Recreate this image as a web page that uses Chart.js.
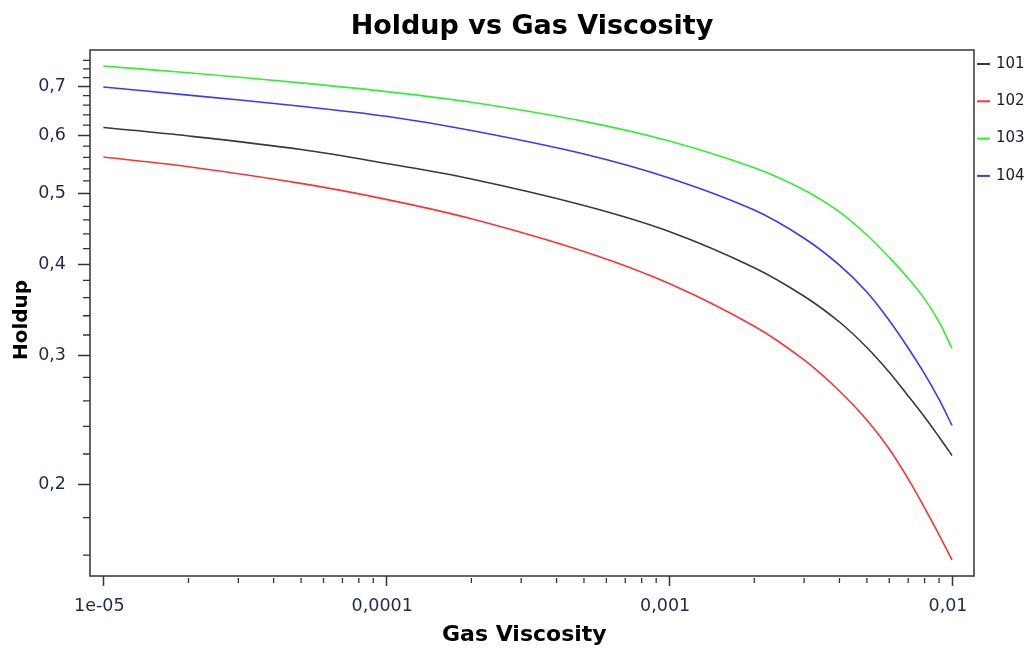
<!DOCTYPE html>
<html>
<head>
<meta charset="utf-8">
<script src="https://cdn.jsdelivr.net/npm/chart.js@4.4.1/dist/chart.umd.min.js"></script>
<style>
html,body{margin:0;padding:0;background:#ffffff;}
#wrap{width:1036px;height:650px;position:relative;}
</style>
</head>
<body>
<div id="wrap"><canvas id="c" width="1036" height="650"></canvas></div>
<script>
// ---- data ----
const seriesNames = ['101', '102', '103', '104'];
const seriesColors = ['#383838', '#ff3333', '#33ee33', '#3838ff'];
const gasViscosity = [1e-5, 2e-5, 5e-5, 1e-4, 2e-4, 5e-4, 1e-3, 2e-3, 3e-3, 4e-3, 5e-3, 6e-3, 7e-3, 8e-3, 9e-3, 1e-2];
const holdup101 = [0.6152, 0.5990, 0.5740, 0.5493, 0.5231, 0.4812, 0.4434, 0.3956, 0.3616, 0.3334, 0.3077, 0.2846, 0.2641, 0.2472, 0.2321, 0.2190];
const holdup102 = [0.5606, 0.5438, 0.5159, 0.4906, 0.4615, 0.4163, 0.3764, 0.3290, 0.2958, 0.2683, 0.2449, 0.2235, 0.2034, 0.1856, 0.1705, 0.1576];
const holdup103 = [0.7467, 0.7309, 0.7080, 0.6889, 0.6660, 0.6272, 0.5896, 0.5419, 0.5053, 0.4715, 0.4385, 0.4086, 0.3825, 0.3586, 0.3334, 0.3068];
const holdup104 = [0.6989, 0.6813, 0.6577, 0.6373, 0.6094, 0.5660, 0.5248, 0.4743, 0.4341, 0.3989, 0.3665, 0.3350, 0.3072, 0.2831, 0.2612, 0.2407];

const xTickValues = [1e-5, 1e-4, 1e-3, 1e-2];
const xTickLabels = ['1e-05', '0,0001', '0,001', '0,01'];
const yTickValues = [0.2, 0.3, 0.4, 0.5, 0.6, 0.7];
const yTickLabels = ['0,2', '0,3', '0,4', '0,5', '0,6', '0,7'];

const xRange = [8.97e-6, 0.01196];
const yRange = [0.1498, 0.7853];

const chartTitle = 'Holdup vs Gas Viscosity';
const xTitle = 'Gas Viscosity';
const yTitle = 'Holdup';

// ---- chart ----
const FONT = "'DejaVu Sans', Verdana, sans-serif";
const AXIS_COLOR = '#333333';
const TICK_TEXT = '#1e2a4a';

const seriesValues = [holdup101, holdup102, holdup103, holdup104];
const datasets = seriesNames.map((name, i) => ({
  label: name,
  data: gasViscosity.map((x, j) => ({ x: x, y: seriesValues[i][j] })),
  borderColor: seriesColors[i],
  backgroundColor: seriesColors[i],
  borderWidth: 1.6,
  pointRadius: 0,
  pointHoverRadius: 0,
  fill: false,
  tension: 0.35
}));

// minor tick values (their pixels come from the library scales)
const xMinor = [];
for (let d = -6; d <= -2; d++) {
  for (let k = 2; k <= 9; k++) xMinor.push(k * Math.pow(10, d));
}
const yMinor = [];
for (let i = 14; i <= 79; i += 2) {
  if (i % 10 !== 0) yMinor.push(i / 100);
}

const framePlugin = {
  id: 'frame',
  afterDraw(chart) {
    const { ctx, chartArea: a, scales } = chart;
    ctx.save();
    ctx.strokeStyle = AXIS_COLOR;
    ctx.lineWidth = 1.5;
    ctx.strokeRect(a.left, a.top, a.right - a.left, a.bottom - a.top);
    ctx.lineWidth = 1.3;
    ctx.beginPath();
    xMinor.forEach(v => {
      const px = scales.x.getPixelForValue(v);
      if (px > a.left + 3 && px < a.right - 3) {
        ctx.moveTo(px, a.bottom + 2);
        ctx.lineTo(px, a.bottom + 7);
      }
    });
    yMinor.forEach(v => {
      const py = scales.y.getPixelForValue(v);
      if (py > a.top + 3 && py < a.bottom - 3) {
        ctx.moveTo(a.left - 7, py);
        ctx.lineTo(a.left, py);
      }
    });
    ctx.stroke();
    // legend (entries from the datasets)
    ctx.font = '15px ' + FONT;
    ctx.textBaseline = 'middle';
    ctx.textAlign = 'left';
    chart.data.datasets.forEach((ds, i) => {
      const y = 64 + i * 37.3;
      ctx.strokeStyle = ds.borderColor;
      ctx.lineWidth = 2;
      ctx.beginPath();
      ctx.moveTo(a.right + 3, y);
      ctx.lineTo(a.right + 16, y);
      ctx.stroke();
      ctx.fillStyle = '#1a1a2a';
      ctx.fillText(ds.label, a.right + 22, y);
    });
    ctx.restore();
  }
};

new Chart(document.getElementById('c'), {
  type: 'line',
  data: { datasets },
  plugins: [framePlugin],
  options: {
    responsive: false,
    animation: false,
    events: [],
    layout: { padding: { left: 0, right: 62, top: 0, bottom: 0 } },
    plugins: {
      legend: { display: false },
      tooltip: { enabled: false },
      title: {
        display: true,
        text: chartTitle,
        fullSize: false,
        color: '#000000',
        font: { family: FONT, size: 27, weight: 'bold' },
        padding: { top: 11, bottom: 6.6 }
      }
    },
    scales: {
      x: {
        type: 'logarithmic',
        min: xRange[0],
        max: xRange[1],
        afterBuildTicks(scale) { scale.ticks = xTickValues.map(v => ({ value: v, major: true })); },
        afterFit(scale) { scale.height = 74; },
        ticks: {
          autoSkip: false,
          maxRotation: 0,
          padding: 9.5,
          labelOffset: -4,
          color: TICK_TEXT,
          font: { family: FONT, size: 17.5 },
          callback(value) { return xTickLabels[xTickValues.indexOf(value)]; }
        },
        grid: { display: true, drawOnChartArea: false, drawTicks: true, tickLength: 10, tickColor: AXIS_COLOR, tickWidth: 1.5 },
        border: { display: false },
        title: {
          display: true, text: xTitle + '  ', color: '#000000',
          font: { family: FONT, size: 22, weight: 'bold' },
          padding: { top: 0, bottom: 2 }
        }
      },
      y: {
        type: 'logarithmic',
        min: yRange[0],
        max: yRange[1],
        afterBuildTicks(scale) { scale.ticks = yTickValues.map(v => ({ value: v, major: true })); },
        afterFit(scale) { scale.width = 90; },
        ticks: {
          autoSkip: false,
          padding: 12,
          color: TICK_TEXT,
          font: { family: FONT, size: 17.5 },
          callback(value) { return yTickLabels[yTickValues.indexOf(value)]; }
        },
        grid: { display: true, drawOnChartArea: false, drawTicks: true, tickLength: 12, tickColor: AXIS_COLOR, tickWidth: 1.5 },
        border: { display: false },
        title: {
          display: true, text: yTitle + '  ', color: '#000000',
          font: { family: FONT, size: 20, weight: 'bold' },
          padding: { top: 10, bottom: 0 }
        }
      }
    }
  }
});
</script>
</body>
</html>
